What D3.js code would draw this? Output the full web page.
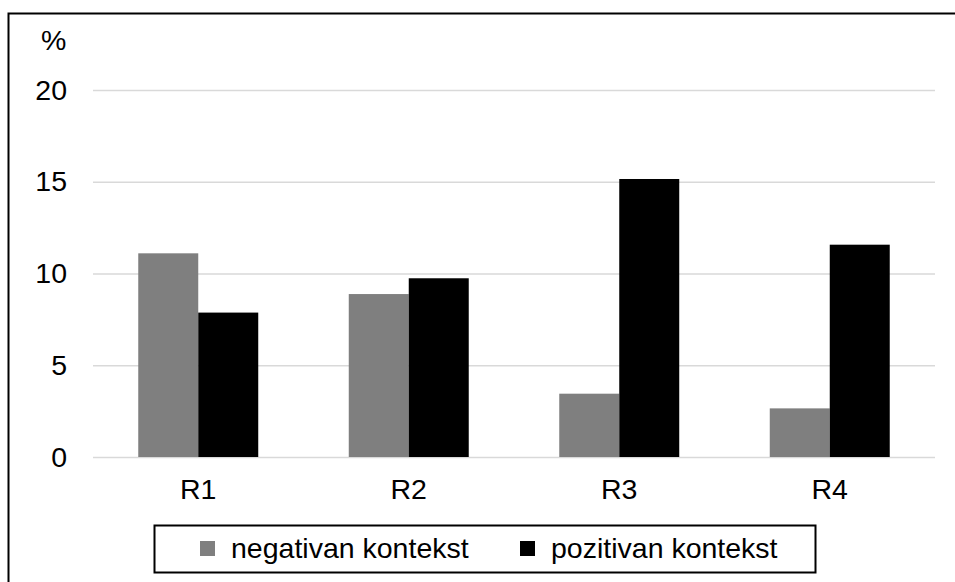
<!DOCTYPE html>
<html>
<head>
<meta charset="utf-8">
<script src="https://cdn.jsdelivr.net/npm/d3@7"></script>
<style>
	body { margin: 0; background: #fff; }
	svg { display: block; font-family: "Liberation Sans", Arial, sans-serif; }
</style>
</head>
<body>
<svg id="chart" width="955" height="582"></svg>
<script>
var categories = ["R1", "R2", "R3", "R4"];
var seriesNames = ["negativan kontekst", "pozitivan kontekst"];
var negativan = [11.1, 8.88, 3.45, 2.65];
var pozitivan = [7.87, 9.74, 15.15, 11.57];
var yTicks = [0, 5, 10, 15, 20];
var colors = ["#7f7f7f", "#000000"];
var fontSize = 28.5;

var margin = {top: 90, right: 20, bottom: 125, left: 93},
	width = 935 - margin.left,
	height = 457 - margin.top;

var data = categories.map(function(c, i) {
	return {cat: c, values: [negativan[i], pozitivan[i]]};
});

var svg = d3.select("#chart");

// outer frame (right and bottom edges fall outside the picture)
svg.append("rect")
	.attr("x", 8.5).attr("y", 13.5)
	.attr("width", 952).attr("height", 575)
	.attr("fill", "none")
	.attr("stroke", "#000")
	.attr("stroke-width", 2);

var g = svg.append("g")
	.attr("transform", "translate(" + margin.left + "," + margin.top + ")");

var x0 = d3.scaleBand()
	.domain(categories)
	.range([0, width])
	.paddingInner(0.43)
	.paddingOuter(0.215);

var x1 = d3.scaleBand()
	.domain(d3.range(seriesNames.length))
	.range([0, x0.bandwidth()]);

var y = d3.scaleLinear().domain([0, 20]).range([height, 0]);

// gridlines
g.append("g")
	.selectAll("line")
	.data(yTicks)
	.enter().append("line")
	.attr("x1", 0).attr("x2", width)
	.attr("y1", function(d) { return y(d) + 0.5; })
	.attr("y2", function(d) { return y(d) + 0.5; })
	.attr("stroke", "#d9d9d9")
	.attr("stroke-width", 1.5);

// y axis labels
var yAxis = g.append("g")
	.call(d3.axisLeft(y).tickValues(yTicks).tickSize(0).tickPadding(26));
yAxis.select(".domain").remove();
yAxis.selectAll("text")
	.attr("font-size", fontSize)
	.attr("font-family", "Liberation Sans, Arial, sans-serif")
	.attr("fill", "#000");

g.append("text")
	.attr("x", -52).attr("y", -40)
	.attr("font-size", fontSize)
	.attr("fill", "#000")
	.text("%");

// bars
g.append("g")
	.selectAll("g")
	.data(data)
	.enter().append("g")
	.attr("transform", function(d) { return "translate(" + x0(d.cat) + ",0)"; })
	.selectAll("rect")
	.data(function(d) { return d.values; })
	.enter().append("rect")
	.attr("x", function(d, i) { return x1(i); })
	.attr("y", function(d) { return y(d); })
	.attr("width", x1.bandwidth())
	.attr("height", function(d) { return height - y(d); })
	.attr("fill", function(d, i) { return colors[i]; });

// x axis labels
var xAxis = g.append("g")
	.attr("transform", "translate(0," + height + ")")
	.call(d3.axisBottom(x0).tickSize(0).tickPadding(22));
xAxis.select(".domain").remove();
xAxis.selectAll("text")
	.attr("font-size", fontSize)
	.attr("font-family", "Liberation Sans, Arial, sans-serif")
	.attr("fill", "#000");

// legend
var legend = svg.append("g");
legend.append("rect")
	.attr("x", 154.5).attr("y", 525.5)
	.attr("width", 661).attr("height", 47)
	.attr("fill", "#fff")
	.attr("stroke", "#000")
	.attr("stroke-width", 2);

var legendX = [200, 520];
var items = legend.selectAll("g.item")
	.data(seriesNames)
	.enter().append("g")
	.attr("class", "item")
	.attr("transform", function(d, i) { return "translate(" + legendX[i] + ",0)"; });
items.append("rect")
	.attr("x", 0).attr("y", 541)
	.attr("width", 15).attr("height", 15)
	.attr("fill", function(d, i) { return colors[i]; });
items.append("text")
	.attr("x", 31).attr("y", 558)
	.attr("font-size", fontSize)
	.attr("fill", "#000")
	.text(function(d) { return d; });
</script>
</body>
</html>
